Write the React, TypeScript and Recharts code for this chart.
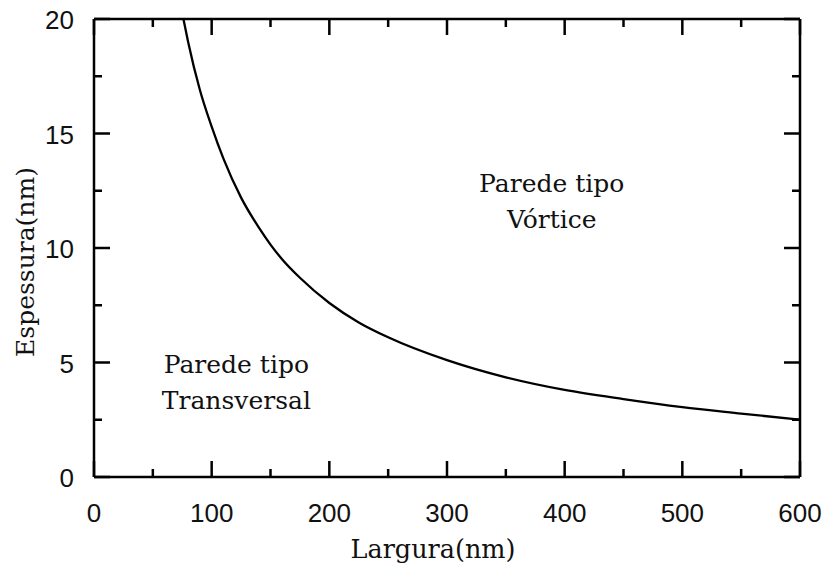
import {
  Line,
  LineChart,
  ReferenceDot,
  XAxis,
  YAxis,
  Label,
} from "recharts";

// Boundary between the two wall types (thickness vs width, both in nm)
const larguraNm = [76, 80, 90, 100, 110, 125, 140, 150, 160, 175, 200, 225, 250, 300, 350, 400, 450, 500, 550, 600];
const espessuraNm = [20, 19.0, 16.9, 15.3, 13.9, 12.2, 10.9, 10.15, 9.5, 8.7, 7.6, 6.75, 6.1, 5.1, 4.35, 3.8, 3.4, 3.05, 2.77, 2.5];

const xTicks = [0, 50, 100, 150, 200, 250, 300, 350, 400, 450, 500, 550, 600];
const yTicks = [0, 2.5, 5, 7.5, 10, 12.5, 15, 17.5, 20];

const regionLabels = [
  { x: 121, y: 4.54, lines: ["Parede tipo", "Transversal"] },
  { x: 389, y: 12.46, lines: ["Parede tipo", "Vórtice"] },
];

const data = larguraNm.map((x, i) => ({ x, y: espessuraNm[i] }));

const SANS = "'Liberation Sans', Arial, sans-serif";
const SERIF = "'DejaVu Serif', serif";
const MAJOR = 16;
const MINOR = 8;
const TICK_W = 2.5;

const isMajorX = (v: number) => v % 100 === 0;
const isMajorY = (v: number) => v % 5 === 0;

function BottomTick({ x, y, payload }: any) {
  const major = isMajorX(payload.value);
  return (
    <g>
      <line x1={x} y1={y} x2={x} y2={y - (major ? MAJOR : MINOR)} stroke="#000" strokeWidth={TICK_W} />
      {major && (
        <text x={x} y={y + 36} textAnchor="middle" dominantBaseline="central" fontFamily={SANS} fontSize={26} fill="#111">
          {payload.value}
        </text>
      )}
    </g>
  );
}

function TopTick({ x, y, payload }: any) {
  const major = isMajorX(payload.value);
  return <line x1={x} y1={y} x2={x} y2={y + (major ? MAJOR : MINOR)} stroke="#000" strokeWidth={TICK_W} />;
}

function LeftTick({ x, y, payload }: any) {
  const major = isMajorY(payload.value);
  return (
    <g>
      <line x1={x} y1={y} x2={x + (major ? MAJOR : MINOR)} y2={y} stroke="#000" strokeWidth={TICK_W} />
      {major && (
        <text x={x - 20} y={y + 1} textAnchor="end" dominantBaseline="central" fontFamily={SANS} fontSize={26} fill="#111">
          {payload.value}
        </text>
      )}
    </g>
  );
}

function RightTick({ x, y, payload }: any) {
  const major = isMajorY(payload.value);
  return <line x1={x} y1={y} x2={x - (major ? MAJOR : MINOR)} y2={y} stroke="#000" strokeWidth={TICK_W} />;
}

function RegionText({ cx, cy, lines }: any) {
  return (
    <text x={cx} y={cy} textAnchor="middle" fontFamily={SERIF} fontSize={25} fill="#111">
      {lines.map((l: string, i: number) => (
        <tspan key={i} x={cx} dy={i === 0 ? 0 : 36}>
          {l}
        </tspan>
      ))}
    </text>
  );
}

const axisLine = { stroke: "#000", strokeWidth: 2.5 };

export default function App() {
  return (
    <div style={{ position: "absolute", left: 0, top: 0 }}>
      <LineChart
        width={823}
        height={567}
        data={data}
        margin={{ top: 18, right: 22, bottom: 30, left: 34 }}
      >
        <XAxis
          dataKey="x"
          type="number"
          domain={[0, 600]}
          ticks={xTicks}
          interval={0}
          height={60}
          tickSize={0}
          tickMargin={0}
          tickLine={false}
          axisLine={axisLine}
          tick={BottomTick}
        >
          <Label
            content={() => (
              <text x={433} y={558} textAnchor="middle" fontFamily={SERIF} fontSize={25.5} fill="#111">
                Largura(nm)
              </text>
            )}
          />
        </XAxis>
        <XAxis
          xAxisId="top"
          dataKey="x"
          orientation="top"
          type="number"
          domain={[0, 600]}
          ticks={xTicks}
          interval={0}
          height={1}
          tickSize={0}
          tickMargin={0}
          tickLine={false}
          axisLine={axisLine}
          tick={TopTick}
        />
        <YAxis
          type="number"
          domain={[0, 20]}
          ticks={yTicks}
          interval={0}
          width={60}
          tickSize={0}
          tickMargin={0}
          tickLine={false}
          axisLine={axisLine}
          tick={LeftTick}
        >
          <Label
            content={() => (
              <text
                x={25}
                y={262}
                transform="rotate(-90 25 262)"
                textAnchor="middle"
                dominantBaseline="central"
                fontFamily={SERIF}
                fontSize={25}
                fill="#111"
              >
                Espessura(nm)
              </text>
            )}
          />
        </YAxis>
        <YAxis
          yAxisId="right"
          orientation="right"
          type="number"
          domain={[0, 20]}
          ticks={yTicks}
          interval={0}
          width={1}
          tickSize={0}
          tickMargin={0}
          tickLine={false}
          axisLine={axisLine}
          tick={RightTick}
        />
        {regionLabels.map((r, i) => (
          <ReferenceDot
            key={i}
            x={r.x}
            y={r.y}
            r={0}
            ifOverflow="visible"
            shape={(p: any) => <RegionText cx={p.cx} cy={p.cy} lines={r.lines} />}
          />
        ))}
        {/* invisible copy so the mirrored top/right axes get a domain */}
        <Line
          xAxisId="top"
          yAxisId="right"
          type="monotone"
          dataKey="y"
          stroke="none"
          dot={false}
          activeDot={false}
          isAnimationActive={false}
        />
        <Line
          type="monotone"
          dataKey="y"
          stroke="#000"
          strokeWidth={2.3}
          dot={false}
          isAnimationActive={false}
        />
      </LineChart>
    </div>
  );
}
